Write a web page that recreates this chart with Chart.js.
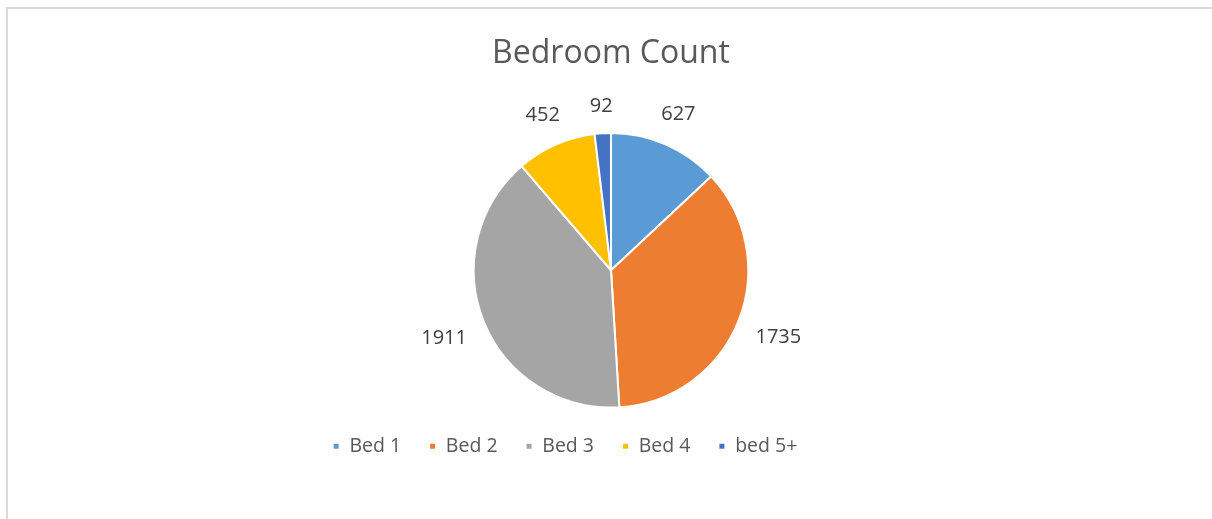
<!DOCTYPE html>
<html>
<head>
<meta charset="utf-8">
<script src="https://cdn.jsdelivr.net/npm/chart.js@4/dist/chart.umd.min.js"></script>
<style>
    html, body { margin: 0; padding: 0; background: #fff; overflow: hidden; }
    #frame {
        position: absolute;
        left: 6px;
        top: 7px;
        width: 1300px;
        height: 600px;
        border: 2px solid #d9d9d9;
    }
    #wrap { position: absolute; left: 0; top: 0; width: 1212px; height: 519px; }
</style>
</head>
<body>
<div id="frame"></div>
<div id="wrap"><canvas id="bedroom-chart"></canvas></div>
<script>
const categories = ['Bed 1', 'Bed 2', 'Bed 3', 'Bed 4', 'bed 5+'];
const bedroomCounts = [627, 1735, 1911, 452, 92];
const sliceColors = ['#5b9bd5', '#ed7d31', '#a5a5a5', '#ffc000', '#4472c4'];

const FONT = "'Open Sans', sans-serif";
const LEGEND_SHIFT = -46;

// Draw the value of each slice just outside its edge
const outsideLabels = {
    id: 'outsideLabels',
    afterDatasetsDraw(chart) {
        const ctx = chart.ctx;
        const meta = chart.getDatasetMeta(0);
        const values = chart.data.datasets[0].data;
        ctx.save();
        ctx.font = '20px ' + FONT;
        ctx.fillStyle = '#404040';
        ctx.textAlign = 'center';
        ctx.textBaseline = 'middle';
        meta.data.forEach((arc, i) => {
            const p = arc.getProps(['x', 'y', 'startAngle', 'endAngle', 'outerRadius'], true);
            const mid = (p.startAngle + p.endAngle) / 2;
            const text = String(values[i]);
            const w = ctx.measureText(text).width;
            const h = 14;
            const dist = p.outerRadius + 19 + Math.abs(Math.cos(mid)) * w / 2 + Math.abs(Math.sin(mid)) * h / 2;
            ctx.fillText(text, p.x + Math.cos(mid) * dist, p.y + Math.sin(mid) * dist);
        });
        ctx.restore();
    }
};

// Excel puts the legend a bit left of the pie
const legendNudge = {
    id: 'legendNudge',
    afterLayout(chart) {
        chart.legend.left += LEGEND_SHIFT;
        chart.legend.right += LEGEND_SHIFT;
    }
};

const ctx = document.getElementById('bedroom-chart').getContext('2d');

new Chart(ctx, {
    type: 'pie',
    data: {
        labels: categories,
        datasets: [{
            data: bedroomCounts,
            backgroundColor: sliceColors,
            borderColor: '#ffffff',
            borderWidth: 2
        }]
    },
    options: {
        responsive: true,
        maintainAspectRatio: false,
        animation: false,
        layout: {
            padding: { top: 0, bottom: 53, left: 10, right: 0 }
        },
        plugins: {
            title: {
                display: true,
                text: 'Bedroom Count',
                color: '#595959',
                font: { family: FONT, size: 32, weight: 'normal' },
                padding: { top: 35, bottom: 58.6 }
            },
            legend: {
                display: true,
                position: 'bottom',
                labels: {
                    color: '#595959',
                    font: { family: FONT, size: 19.5 },
                    boxWidth: 7,
                    boxHeight: 7,
                    padding: 28
                }
            },
            tooltip: { enabled: false }
        }
    },
    plugins: [outsideLabels, legendNudge]
});
</script>
</body>
</html>
